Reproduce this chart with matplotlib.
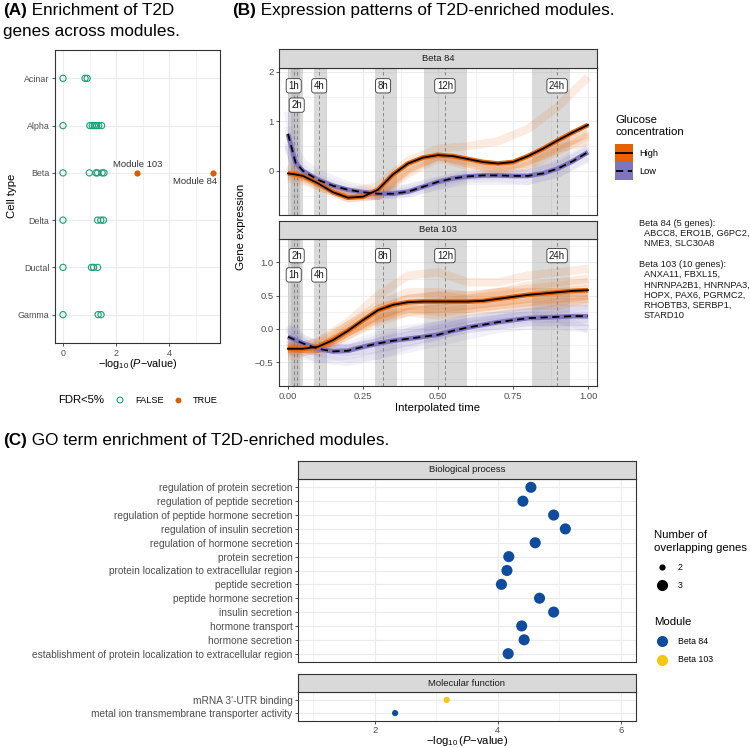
import matplotlib
matplotlib.use('Agg')
import matplotlib.pyplot as plt
import numpy as np

plt.rcParams['font.family'] = ['Liberation Sans', 'DejaVu Sans']
plt.rcParams['mathtext.fontset'] = 'custom'
plt.rcParams['mathtext.rm'] = 'Liberation Sans'
plt.rcParams['mathtext.it'] = 'Liberation Sans:italic'
plt.rcParams['mathtext.default'] = 'regular'

# ---------------- Panel A data ----------------
cell_types = ['Acinar', 'Alpha', 'Beta', 'Delta', 'Ductal', 'Gamma']
acinar_p = [0.0, 0.83, 0.91]
alpha_p = [0.0, 1.01, 1.1, 1.18, 1.26, 1.34, 1.45]
beta_p = [0.0, 0.99, 1.24, 1.3, 1.47, 1.54]
delta_p = [0.0, 1.3, 1.42, 1.52]
ductal_p = [0.0, 1.07, 1.15, 1.3]
gamma_p = [0.0, 1.32, 1.43]
sig_cell = ['Beta', 'Beta']
sig_p = [5.64, 2.78]
sig_label = ['Module 84', 'Module 103']

# ---------------- Panel B data ----------------
time_labels = ['1h', '2h', '4h', '8h', '12h', '24h']
time_pos = [0.019, 0.029, 0.104, 0.317, 0.523, 0.897]
band_lo = [0.0, 0.01, 0.087, 0.29, 0.453, 0.813]
band_hi = [0.04, 0.05, 0.13, 0.363, 0.597, 0.94]
lab_y_b84 = [1.72, 1.33, 1.72, 1.72, 1.72, 1.72]
lab_y_b103 = [0.81, 1.10, 0.81, 1.10, 1.10, 1.10]

xm = [0, 0.025, 0.05, 0.1, 0.15, 0.2, 0.25, 0.3, 0.35, 0.4, 0.45, 0.5,
      0.55, 0.6, 0.65, 0.7, 0.75, 0.8, 0.85, 0.9, 0.95, 1.0]
b84_high_mean = [-0.05, -0.07, -0.1, -0.25, -0.43, -0.54, -0.52, -0.38, -0.07, 0.15, 0.27,
                 0.32, 0.3, 0.24, 0.18, 0.15, 0.18, 0.3, 0.45, 0.62, 0.78, 0.93]
b84_low_mean = [0.75, 0.17, 0.0, -0.18, -0.3, -0.38, -0.43, -0.46, -0.46, -0.42, -0.32,
                -0.22, -0.15, -0.11, -0.09, -0.09, -0.1, -0.1, -0.05, 0.05, 0.2, 0.38]
b103_high_mean = [-0.3, -0.3, -0.3, -0.27, -0.17, -0.03, 0.13, 0.28, 0.36, 0.4, 0.41,
                  0.41, 0.41, 0.41, 0.42, 0.45, 0.48, 0.51, 0.53, 0.55, 0.57, 0.58]
b103_low_mean = [-0.12, -0.17, -0.22, -0.3, -0.34, -0.33, -0.27, -0.22, -0.18, -0.15, -0.12,
                 -0.09, -0.03, 0.02, 0.06, 0.1, 0.13, 0.16, 0.17, 0.18, 0.19, 0.19]

xg = [0, 0.025, 0.05, 0.1, 0.2, 0.3, 0.4, 0.5, 0.6, 0.7, 0.8, 0.9, 1.0]
b84_high_genes = [
    [0.1, 0.0, -0.1, -0.2, -0.45, -0.3, 0.2, 0.45, 0.5, 0.6, 0.85, 1.3, 1.9],
    [-0.15, -0.18, -0.2, -0.3, -0.55, -0.5, 0.0, 0.3, 0.2, 0.1, 0.15, 0.45, 0.8],
    [-0.05, -0.08, -0.12, -0.25, -0.5, -0.5, -0.05, 0.25, 0.1, 0.0, 0.1, 0.4, 0.7],
    [0.0, -0.05, -0.1, -0.25, -0.45, -0.45, 0.05, 0.3, 0.15, 0.05, 0.2, 0.5, 0.75],
    [-0.1, -0.12, -0.15, -0.3, -0.55, -0.5, 0.05, 0.3, 0.15, 0.0, 0.2, 0.45, 0.6],
]
b84_low_genes = [
    [1.2, 0.4, 0.15, -0.05, -0.3, -0.4, -0.35, -0.2, -0.05, 0.0, 0.0, 0.15, 0.5],
    [0.5, 0.05, -0.05, -0.2, -0.45, -0.5, -0.45, -0.3, -0.15, -0.15, -0.2, -0.05, 0.3],
    [0.9, 0.2, 0.05, -0.15, -0.35, -0.45, -0.35, -0.2, -0.1, -0.05, -0.05, 0.1, 0.45],
    [0.6, 0.05, -0.1, -0.25, -0.45, -0.5, -0.45, -0.3, -0.2, -0.2, -0.2, -0.05, 0.25],
    [0.55, 0.05, -0.05, -0.25, -0.45, -0.5, -0.4, -0.25, -0.1, -0.1, -0.05, 0.1, 0.4],
]
b103_high_genes = [
    [-0.2, -0.25, -0.25, -0.2, 0.1, 0.5, 0.8, 0.85, 0.7, 0.7, 0.8, 0.85, 0.9],
    [-0.4, -0.4, -0.35, -0.3, -0.05, 0.2, 0.35, 0.4, 0.45, 0.55, 0.65, 0.7, 0.75],
    [-0.3, -0.3, -0.3, -0.3, -0.1, 0.1, 0.25, 0.3, 0.3, 0.35, 0.4, 0.4, 0.4],
    [-0.35, -0.3, -0.3, -0.25, 0.05, 0.35, 0.55, 0.55, 0.5, 0.55, 0.6, 0.65, 0.7],
    [-0.25, -0.3, -0.3, -0.35, -0.1, 0.15, 0.3, 0.3, 0.35, 0.4, 0.45, 0.45, 0.5],
    [-0.3, -0.3, -0.35, -0.3, 0.0, 0.3, 0.45, 0.5, 0.45, 0.5, 0.55, 0.55, 0.6],
    [-0.35, -0.35, -0.3, -0.3, -0.05, 0.2, 0.3, 0.25, 0.3, 0.35, 0.4, 0.45, 0.45],
    [-0.3, -0.25, -0.25, -0.2, 0.05, 0.3, 0.45, 0.5, 0.5, 0.55, 0.55, 0.55, 0.55],
    [-0.3, -0.3, -0.3, -0.3, -0.05, 0.2, 0.35, 0.35, 0.35, 0.4, 0.45, 0.5, 0.5],
    [-0.25, -0.3, -0.3, -0.3, -0.05, 0.15, 0.25, 0.2, 0.25, 0.3, 0.35, 0.35, 0.45],
]
b103_low_genes = [
    [0.0, -0.1, -0.2, -0.35, -0.45, -0.4, -0.3, -0.2, -0.1, 0.0, 0.05, 0.05, 0.0],
    [-0.25, -0.3, -0.35, -0.45, -0.5, -0.4, -0.25, -0.1, 0.05, 0.15, 0.25, 0.3, 0.35],
    [-0.1, -0.15, -0.2, -0.3, -0.3, -0.2, -0.1, 0.0, 0.1, 0.2, 0.3, 0.4, 0.5],
    [-0.2, -0.25, -0.3, -0.35, -0.35, -0.25, -0.15, -0.05, 0.05, 0.1, 0.15, 0.15, 0.15],
    [0.05, -0.05, -0.15, -0.25, -0.3, -0.2, -0.1, 0.0, 0.1, 0.15, 0.2, 0.2, 0.2],
    [-0.15, -0.2, -0.25, -0.3, -0.35, -0.3, -0.2, -0.1, 0.0, 0.05, 0.1, 0.1, 0.1],
    [-0.3, -0.35, -0.4, -0.45, -0.4, -0.3, -0.2, -0.1, 0.0, 0.05, 0.1, 0.1, 0.1],
    [0.0, -0.05, -0.15, -0.25, -0.3, -0.2, -0.05, 0.05, 0.15, 0.2, 0.25, 0.3, 0.3],
    [-0.15, -0.2, -0.25, -0.3, -0.3, -0.15, -0.05, 0.05, 0.15, 0.2, 0.25, 0.25, 0.3],
    [-0.1, -0.15, -0.25, -0.3, -0.25, -0.1, 0.0, 0.05, 0.1, 0.15, 0.2, 0.15, 0.0],
]
gene_text = [
    ('Beta 84 (5 genes):', False), ('ABCC8, ERO1B, G6PC2,', True), ('NME3, SLC30A8', True),
    ('', False),
    ('Beta 103 (10 genes):', False), ('ANXA11, FBXL15,', True), ('HNRNPA2B1, HNRNPA3,', True),
    ('HOPX, PAX6, PGRMC2,', True), ('RHOBTB3, SERBP1,', True), ('STARD10', True),
]

# ---------------- Panel C data ----------------
bp_terms = ['regulation of protein secretion', 'regulation of peptide secretion',
            'regulation of peptide hormone secretion', 'regulation of insulin secretion',
            'regulation of hormone secretion', 'protein secretion',
            'protein localization to extracellular region', 'peptide secretion',
            'peptide hormone secretion', 'insulin secretion', 'hormone transport',
            'hormone secretion', 'establishment of protein localization to extracellular region']
bp_p = [4.54, 4.41, 4.91, 5.10, 4.61, 4.18, 4.15, 4.06, 4.68, 4.91, 4.39, 4.43, 4.17]
bp_n = [3] * 13
bp_module = ['Beta 84'] * 13
mf_terms = ["mRNA 3'-UTR binding", 'metal ion transmembrane transporter activity']
mf_p = [3.17, 2.33]
mf_n = [2, 2]
mf_module = ['Beta 103', 'Beta 84']

# ---------------- styling ----------------
W, H = 750, 748
fig = plt.figure(figsize=(W / 100, H / 100), dpi=100)
GRID = '#EBEBEB'
FRAME = '#333333'
TICKTXT = '#4D4D4D'
GREEN = '#1B9E77'
ORANGE_A = '#D95F02'
HIGH = '#E66101'
LOW = '#7F74BE'
MOD_COL = {'Beta 84': '#0F4C9E', 'Beta 103': '#F5C710'}
SIZE = {2: 20, 3: 64}


def add_ax(x0, y0, x1, y1):
    return fig.add_axes([x0 / W, 1 - y1 / H, (x1 - x0) / W, (y1 - y0) / H])


def style(ax, fs):
    for s in ax.spines.values():
        s.set_color(FRAME)
        s.set_linewidth(0.8)
    ax.tick_params(which='major', length=2.5, width=0.6, color=FRAME,
                   labelcolor=TICKTXT, labelsize=fs, pad=1.5)
    ax.tick_params(which='minor', length=0)
    ax.grid(which='major', color=GRID, lw=0.8)
    ax.grid(which='minor', color=GRID, lw=0.45)
    ax.set_axisbelow(True)


def strip(x0, y0, x1, y1, label, fs):
    s = add_ax(x0, y0, x1, y1)
    s.set_facecolor('#D9D9D9')
    s.set_xticks([])
    s.set_yticks([])
    for sp in s.spines.values():
        sp.set_color(FRAME)
        sp.set_linewidth(0.8)
    s.text(0.5, 0.5, label, transform=s.transAxes, ha='center', va='center',
           fontsize=fs, color='#1A1A1A')


# ================= Panel A =================
axA = add_ax(55, 50, 220, 343)
style(axA, 6.4)
ypos = {c: len(cell_types) - 1 - i for i, c in enumerate(cell_types)}
groups = [acinar_p, alpha_p, beta_p, delta_p, ductal_p, gamma_p]
for c, vals in zip(cell_types, groups):
    axA.scatter(vals, [ypos[c]] * len(vals), s=20, facecolors='none',
                edgecolors=GREEN, linewidths=0.8, zorder=3)
axA.scatter(sig_p, [ypos[c] for c in sig_cell], s=20, color=ORANGE_A, zorder=3, linewidths=0)
axA.text(sig_p[0] - 0.66, ypos[sig_cell[0]] - 0.19, sig_label[0], ha='center', va='center',
         fontsize=6.8, color='#333333')
axA.text(sig_p[1] + 0.02, ypos[sig_cell[1]] + 0.17, sig_label[1], ha='center', va='center',
         fontsize=6.8, color='#333333')
axA.set_xlim(-0.3, 5.9)
axA.set_ylim(-0.6, 5.6)
axA.set_xticks([0, 2, 4])
axA.set_xticks([1, 3, 5], minor=True)
axA.set_yticks([ypos[c] for c in cell_types])
axA.set_yticklabels(cell_types)

# ================= Panel B =================
facets = [
    ('Beta 84', (68, 215), (49, 68), (-0.89, 2.08), [0, 1, 2], ['0', '1', '2'],
     [-0.5, 0.5, 1.5], b84_high_genes, b84_low_genes, b84_high_mean, b84_low_mean, lab_y_b84),
    ('Beta 103', (239, 386), (221, 239), (-0.86, 1.35), [-0.5, 0.0, 0.5, 1.0],
     ['\u22120.5', '0.0', '0.5', '1.0'], [-0.75, -0.25, 0.25, 0.75, 1.25],
     b103_high_genes, b103_low_genes, b103_high_mean, b103_low_mean, lab_y_b103),
]
for k, (name, (py0, py1), (sy0, sy1), ylim, yt, ytl, ymin, hg, lg, hm, lm, laby) in enumerate(facets):
    ax = add_ax(279, py0, 597, py1)
    style(ax, 6.8)
    strip(279, sy0, 597, sy1, name, 6.8)
    for lo, hi in zip(band_lo, band_hi):
        ax.axvspan(lo, hi, color='#A8A8A8', alpha=0.42, lw=0, zorder=1)
    for tp in time_pos:
        ax.axvline(tp, color='#7A7A7A', lw=0.6, ls=(0, (4, 3)), zorder=2)
    for g in lg:
        ax.plot(xg, g, color=LOW, alpha=0.09, lw=6, solid_capstyle='butt', zorder=3)
    for g in hg:
        ax.plot(xg, g, color=HIGH, alpha=0.12, lw=6, solid_capstyle='butt', zorder=3)
    ax.plot(xm, lm, color=LOW, lw=3.4, zorder=4, solid_capstyle='butt')
    ax.plot(xm, hm, color=HIGH, lw=3.4, zorder=5, solid_capstyle='butt')
    ax.plot(xm, hm, color='black', lw=1.3, zorder=6)
    ax.plot(xm, lm, color='black', lw=1.3, ls=(0, (4, 2.5)), zorder=6)
    for lab, tp, ly in zip(time_labels, time_pos, laby):
        ax.text(tp, ly, lab, ha='center', va='center', fontsize=7, color='#1A1A1A', zorder=8,
                bbox=dict(boxstyle='round,pad=0.22,rounding_size=0.25', fc='white',
                          ec='#333333', lw=0.6))
    ax.set_xlim(-0.03, 1.03)
    ax.set_ylim(*ylim)
    ax.set_xticks([0, 0.25, 0.5, 0.75, 1.0])
    ax.set_xticks([0.125, 0.375, 0.625, 0.875], minor=True)
    ax.set_yticks(yt)
    ax.set_yticklabels(ytl)
    ax.set_yticks(ymin, minor=True)
    if k == 0:
        ax.tick_params(axis='x', which='major', length=0, labelbottom=False)
    else:
        ax.set_xticklabels(['0.00', '0.25', '0.50', '0.75', '1.00'])

# ================= Panel C =================
axBP = add_ax(298, 479, 636, 662)
axMF = add_ax(298, 692, 636, 721)
strip(298, 461, 636, 479, 'Biological process', 6.8)
strip(298, 674, 636, 692, 'Molecular function', 6.8)
for ax, terms, pv, nn, mods in [(axBP, bp_terms, bp_p, bp_n, bp_module),
                                (axMF, mf_terms, mf_p, mf_n, mf_module)]:
    style(ax, 7.3)
    yy = [len(terms) - 1 - i for i in range(len(terms))]
    ax.scatter(pv, yy, s=[SIZE[n] for n in nn], c=[MOD_COL[m] for m in mods],
               linewidths=0, zorder=3)
    ax.set_yticks(yy)
    ax.set_yticklabels(terms)
    ax.set_ylim(-0.6, len(terms) - 0.4)
    ax.set_xlim(0.75, 6.25)
    ax.set_xticks([2, 4, 6])
    ax.set_xticks([1, 3, 5], minor=True)
axBP.tick_params(axis='x', which='major', length=0, labelbottom=False)
axMF.tick_params(axis='x', which='major', pad=0.8, labelsize=6.8)

# ================= overlay: titles, labels, legends =================
ov = fig.add_axes([0, 0, 1, 1])
ov.set_xlim(0, W)
ov.set_ylim(H, 0)
ov.axis('off')
r = fig.canvas.get_renderer()


def title(x, y, bold, rest, fs=12.3):
    t = ov.text(x, y, bold, fontsize=fs, fontweight='bold', va='center', ha='left')
    bb = t.get_window_extent(renderer=r)
    ov.text(x + bb.width, y, rest, fontsize=fs, va='center', ha='left')


title(3, 10, '(A)', ' Enrichment of T2D')
ov.text(3, 31, 'genes across modules.', fontsize=12.3, va='center', ha='left')
title(232, 10, '(B)', ' Expression patterns of T2D-enriched modules.')
title(3, 440, '(C)', ' GO term enrichment of T2D-enriched modules.')

xlab = r'$-\log_{10}(\mathit{P}{-}\mathrm{value})$'
ov.text(138, 364, xlab, fontsize=7.8, ha='center', va='center')
ov.text(12, 196, 'Cell type', fontsize=8.2, rotation=90, ha='center', va='center')
ov.text(241, 227, 'Gene expression', fontsize=8.2, rotation=90, ha='center', va='center')
ov.text(438, 408, 'Interpolated time', fontsize=8.2, ha='center', va='center')
ov.text(467, 740.5, xlab, fontsize=8.1, ha='center', va='center')

# legend A
ov.text(58, 400, 'FDR<5%', fontsize=8.2, ha='left', va='center')
ov.scatter([120], [400], s=18, facecolors='none', edgecolors=GREEN, linewidths=0.8)
ov.text(135, 400, 'FALSE', fontsize=6.6, ha='left', va='center')
ov.scatter([178], [400], s=18, color=ORANGE_A, linewidths=0)
ov.text(193, 400, 'TRUE', fontsize=6.6, ha='left', va='center')

# legend B
ov.text(615, 120, 'Glucose', fontsize=8.2, ha='left', va='center')
ov.text(615, 132, 'concentration', fontsize=8.2, ha='left', va='center')
ov.add_patch(plt.Rectangle((615, 144), 18, 18, color=HIGH, lw=0))
ov.add_patch(plt.Rectangle((615, 162), 18, 18, color=LOW, lw=0))
ov.plot([616, 632], [153, 153], color='black', lw=1.3)
ov.plot([616, 632], [171, 171], color='black', lw=1.3, ls=(0, (4, 2.5)))
ov.text(639, 153, 'High', fontsize=6.7, ha='left', va='center')
ov.text(639, 171, 'Low', fontsize=6.7, ha='left', va='center')
yline = 223
for txt, indent in gene_text:
    if txt:
        ov.text(644 if indent else 639, yline, txt, fontsize=6.7, ha='left', va='center',
                color='#1A1A1A')
    yline += 10.3 if txt else 10.5

# legend C
ov.text(654, 535, 'Number of', fontsize=8.2, ha='left', va='center')
ov.text(654, 548, 'overlapping genes', fontsize=8.2, ha='left', va='center')
ov.scatter([662], [567], s=SIZE[2], color='black', linewidths=0)
ov.scatter([662], [585], s=SIZE[3], color='black', linewidths=0)
ov.text(678, 567, '2', fontsize=6.3, ha='left', va='center')
ov.text(678, 585, '3', fontsize=6.3, ha='left', va='center')
ov.text(654, 622, 'Module', fontsize=8.2, ha='left', va='center')
ov.scatter([662], [641], s=SIZE[3], color=MOD_COL['Beta 84'], linewidths=0)
ov.scatter([662], [660], s=SIZE[3], color=MOD_COL['Beta 103'], linewidths=0)
ov.text(678, 641, 'Beta 84', fontsize=6.3, ha='left', va='center')
ov.text(678, 660, 'Beta 103', fontsize=6.3, ha='left', va='center')

fig.savefig('out.png', dpi=100)
